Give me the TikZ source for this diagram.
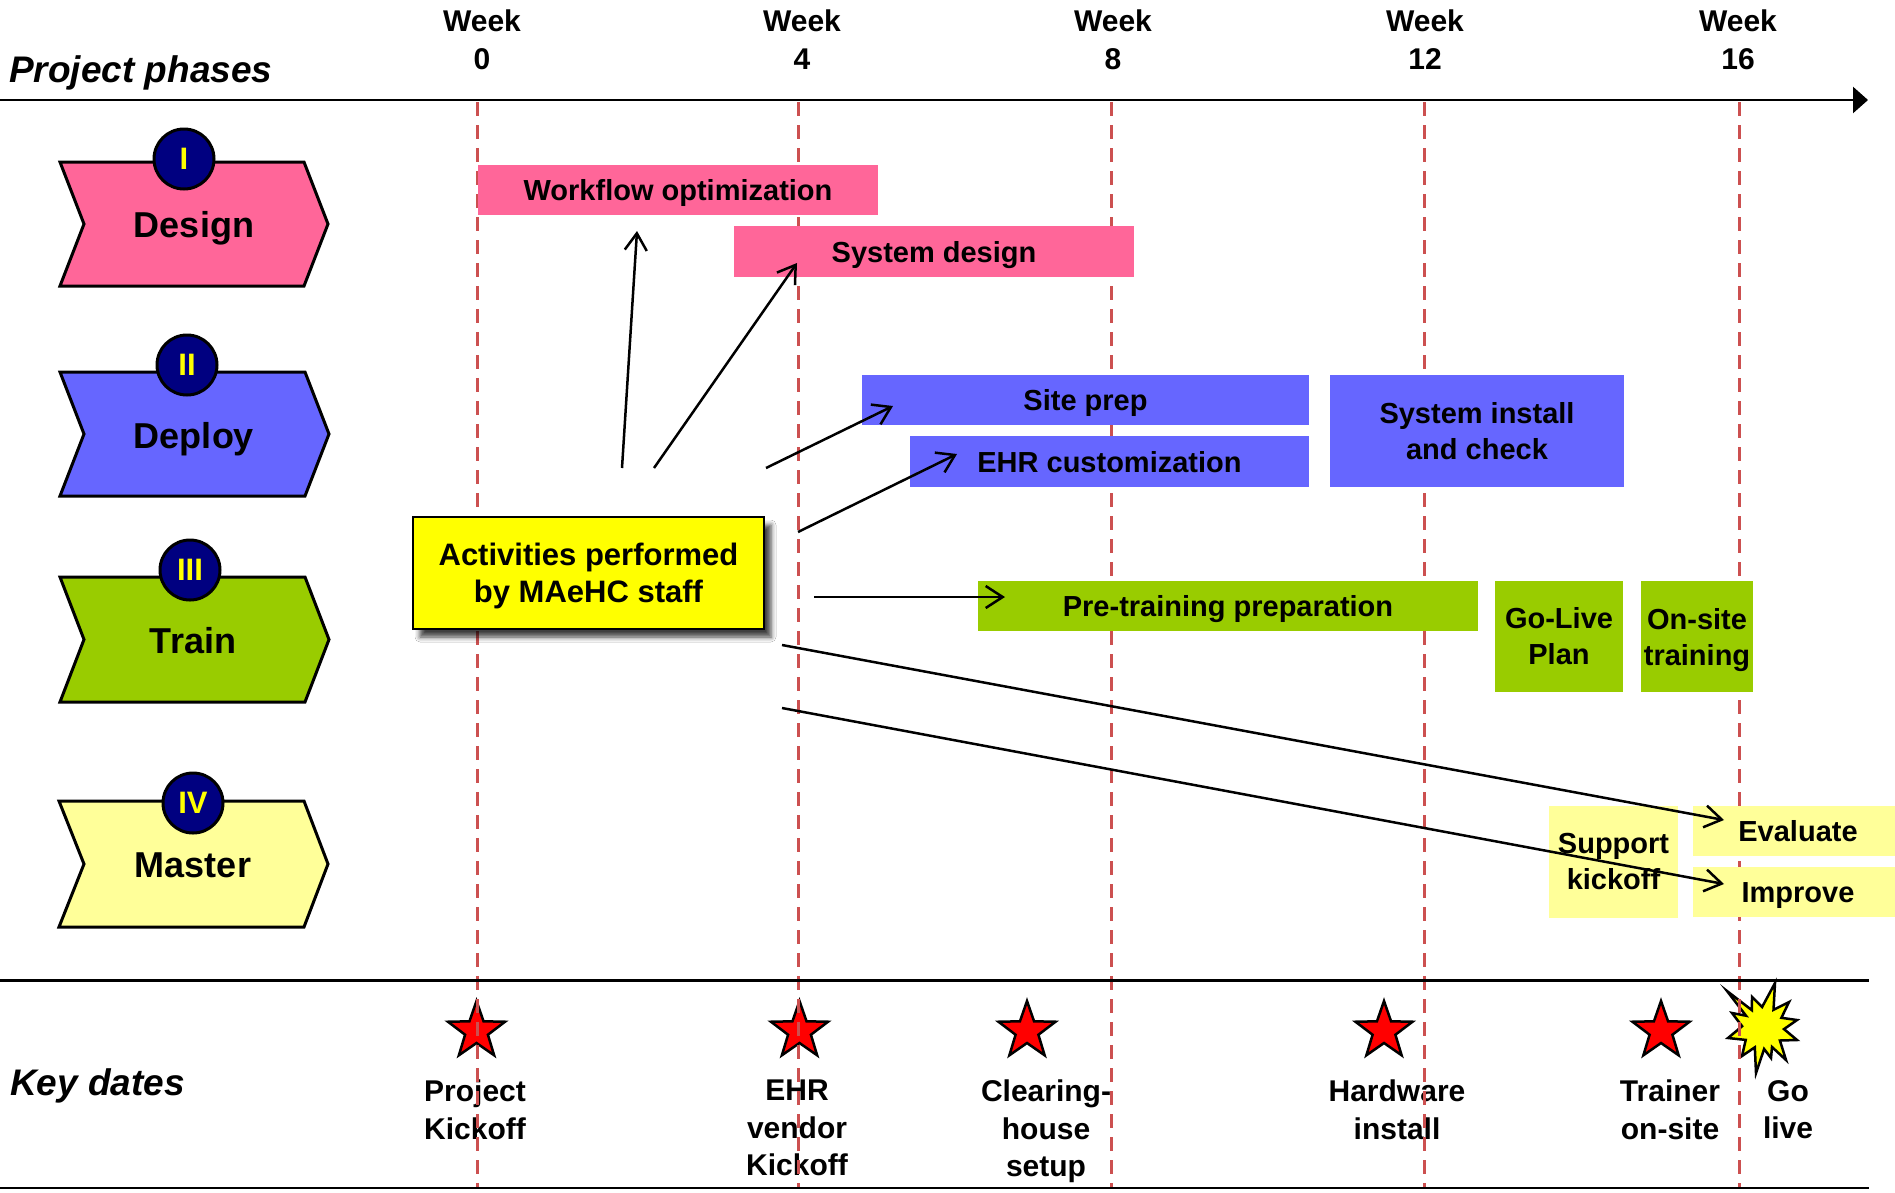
\documentclass[tikz,border=0pt]{standalone}
\usepackage{fontspec}
\setmainfont{Liberation Sans}
\usetikzlibrary{arrows.meta,shapes.geometric,shadows.blur}
\definecolor{cpink}{HTML}{FF6699}
\definecolor{cblue}{HTML}{6666FF}
\definecolor{cgreen}{HTML}{99CC00}
\definecolor{clyel}{HTML}{FFFF99}
\definecolor{cyel}{HTML}{FFFF00}
\definecolor{cnavy}{HTML}{000080}
\definecolor{cdash}{RGB}{204,80,80}
\begin{document}
\begin{tikzpicture}[x=1pt,y=-1pt,
  barone/.style={inner sep=0pt, outer sep=0pt, font=\fontsize{29}{36}\selectfont\bfseries, text height=21pt, text depth=0pt},
  barmulti/.style={inner sep=0pt, outer sep=0pt, font=\fontsize{29}{36}\selectfont\bfseries, align=center},
  chev/.style={draw=black, line width=3pt, line join=miter},
  badge/.style={circle, draw=black, line width=3pt, fill=cnavy, minimum size=60pt, inner sep=0pt, text=cyel, font=\fontsize{31}{31}\selectfont\bfseries},
  phase/.style={anchor=base, inner sep=0pt, font=\fontsize{36}{40}\selectfont\bfseries},
  weekline/.style={cdash, line width=3pt, dash pattern=on 14pt off 9pt},
  weeklab/.style={anchor=north, inner sep=0pt, align=center, font=\fontsize{30}{38}\selectfont\bfseries},
  keylab/.style={anchor=north, inner sep=0pt, align=center, font=\fontsize{30}{37.5}\selectfont\bfseries},
  keystar/.style={star, star points=5, star point ratio=2.5, minimum size=60pt, inner sep=0pt, fill=red, draw=black, line width=2.5pt},
  arr/.style={line width=2.5pt, -{Straight Barb[length=17pt,width=22pt]}},
  heading/.style={anchor=base west, inner sep=0pt, font=\fontsize{37}{40}\selectfont\bfseries\itshape},
  rule/.style={line width=2.5pt, black},
]
\useasboundingbox[fill=white] (0,0) rectangle (1895,1192);

% ---- key dates: stars, burst, labels
\node[keystar] (st0) at (476.5,1031) {};
\node[keystar] (st4) at (799.5,1031) {};
\node[keystar] (stc) at (1027,1031) {};
\node[keystar] (sth) at (1384,1031) {};
\node[keystar] (stt) at (1661,1031) {};
\draw[fill=cyel, line width=2.5pt, line join=miter]
  (1775,983) -- (1773.5,1009.8) -- (1789,1002) -- (1781.4,1017.8) -- (1797,1020) -- (1784,1029.1)
  -- (1797,1040) -- (1779.9,1040.5) -- (1786,1060) -- (1772,1047) -- (1771,1058) -- (1764.1,1049)
  -- (1756,1073) -- (1754.8,1047.3) -- (1742,1056) -- (1745.7,1039.9) -- (1728,1038) -- (1742.1,1026.2)
  -- (1732,1013) -- (1746,1015.7) -- (1727,991) -- (1751.9,1010.2) -- (1752,997) -- (1762.1,1007) -- cycle;
\node[keylab] (k0) at (475,1080) {Project\\Kickoff};
\node[keylab] (k4) at (797,1080) {EHR\\vendor\\Kickoff};
\node[keylab] (kc) at (1046,1080) {Clearing-\\house\\setup};
\node[keylab] (kh) at (1397,1080) {Hardware\\install};
\node[keylab] (kt) at (1670,1080) {Trainer\\on-site};
\node[keylab] (kg) at (1788,1080) {Go\\live};
\node[heading] (kd) at (10,1095) {Key dates};

% ---- week dashed lines
\foreach \wx in {477,798,1111,1424,1739}
  \draw[weekline] (\wx,102) -- (\wx,1188);

% ---- rules
\draw[rule, -{Triangle[length=15pt,width=26pt]}] (0,100) -- (1868,100);
\draw[rule] (0,980.5) -- (1869,980.5);
\draw[rule] (0,1188) -- (1869,1188);

% ---- headings and week labels
\node[heading] (ph) at (9,82) {Project phases};
\node[weeklab] (w0) at (482,10) {Week\\0};
\node[weeklab] (w4) at (802,10) {Week\\4};
\node[weeklab] (w8) at (1113,10) {Week\\8};
\node[weeklab] (w12) at (1425,10) {Week\\12};
\node[weeklab] (w16) at (1738,10) {Week\\16};

% ---- phase chevrons
\draw[chev, fill=cpink] (60,162) -- (304,162) -- (328,224) -- (304,286) -- (60,286) -- (84,224) -- cycle;
\draw[chev, fill=cblue] (60,372) -- (305,372) -- (329,434) -- (305,496) -- (60,496) -- (84,434) -- cycle;
\draw[chev, fill=cgreen] (60,577) -- (305,577) -- (329,639.5) -- (305,702) -- (60,702) -- (84,639.5) -- cycle;
\draw[chev, fill=clyel] (59,801) -- (304,801) -- (328,864) -- (304,927) -- (59,927) -- (84,864) -- cycle;
\node[phase] (pdesign) at (194,237) {Design};
\node[phase] (pdeploy) at (194,448) {Deploy};
\node[phase] (ptrain) at (193,653) {Train};
\node[phase] (pmaster) at (193,877) {Master};
\node[badge] (b1) at (184,159) {I};
\node[badge] (b2) at (187,365) {II};
\node[badge] (b3) at (190,570) {III};
\node[badge] (b4) at (193,803) {IV};

% ---- activity bars
\node[barone, fill=cpink, minimum width=400pt, minimum height=50pt] (wf) at (678,190) {Workflow optimization};
\node[barone, fill=cpink, minimum width=400pt, minimum height=51pt] (sd) at (934,251.5) {System design};
\node[barone, fill=cblue, minimum width=447pt, minimum height=50pt] (sp) at (1085.5,400) {Site prep};
\node[barone, fill=cblue, minimum width=399pt, minimum height=51pt] (ehr) at (1109.5,461.5) {EHR customization};
\node[barmulti, fill=cblue, minimum width=294pt, minimum height=112pt] (si) at (1477,431) {System install\\and check};
\node[barone, fill=cgreen, minimum width=500pt, minimum height=50pt] (pt) at (1228,606) {Pre-training preparation};
\node[barmulti, fill=cgreen, minimum width=128pt, minimum height=111pt] (gl) at (1559,636.5) {Go-Live\\Plan};
\node[barmulti, fill=cgreen, minimum width=112pt, minimum height=111pt] (os) at (1697,636.5) {On-site\\\smash{training}};
\node[barmulti, fill=clyel, minimum width=129pt, minimum height=112pt] (sk) at (1613.5,862) {Support\\kickoff};
\node[barone, fill=clyel, minimum width=210pt, minimum height=50pt] (ev) at (1798,831) {Evaluate};
\node[barone, fill=clyel, minimum width=210pt, minimum height=50pt] (im) at (1798,892) {Improve};

% ---- MAeHC box
\node[draw=black, line width=2.5pt, fill=cyel, minimum width=351pt, minimum height=112pt, inner sep=0pt,
      align=center, font=\fontsize{31}{37}\selectfont\bfseries,
      blur shadow={shadow xshift=7pt, shadow yshift=-8pt, shadow blur radius=5pt, shadow opacity=75}]
      (act) at (588.5,573) {Activities performed\\\smash{by MAeHC staff}};

% ---- arrows
\coordinate (s1) at (622,468); \coordinate (e1) at (637,231);
\coordinate (s2) at (654,468); \coordinate (e2) at (797,263);
\coordinate (s3) at (766,468); \coordinate (e3) at (893,406);
\coordinate (s4) at (798,532); \coordinate (e4) at (957,454);
\coordinate (s5) at (814,597); \coordinate (e5) at (1005,597);
\coordinate (s6) at (782,645); \coordinate (e6) at (1724,820);
\coordinate (s7) at (782,708); \coordinate (e7) at (1724,884);
\draw[arr] (s1) -- (e1);
\draw[arr] (s2) -- (e2);
\draw[arr] (s3) -- (e3);
\draw[arr] (s4) -- (e4);
\draw[arr] (s5) -- (e5);
\draw[arr] (s6) -- (e6);
\draw[arr] (s7) -- (e7);
\end{tikzpicture}
\end{document}
